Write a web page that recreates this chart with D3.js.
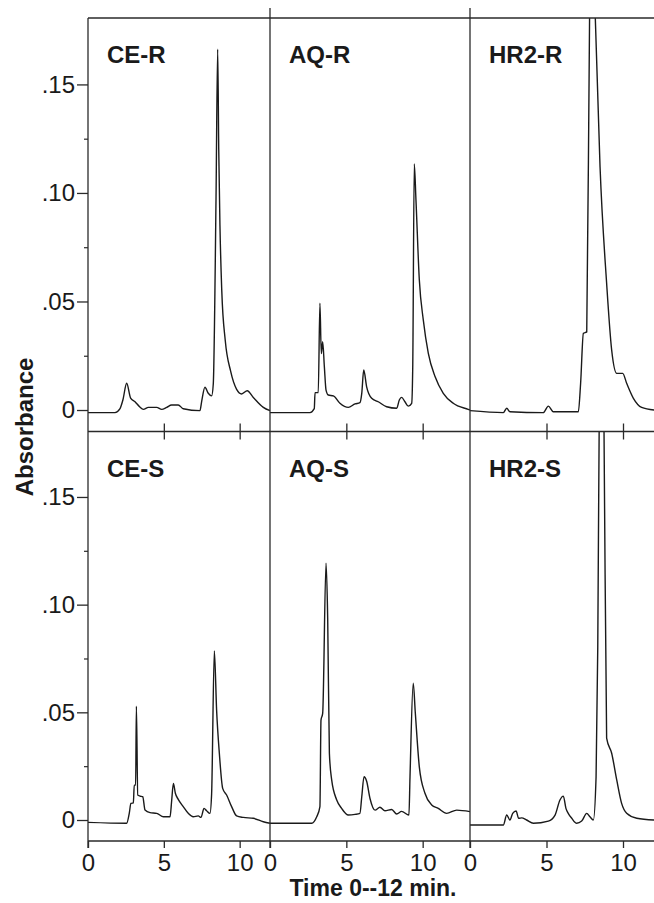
<!DOCTYPE html>
<html lang="en">
<head>
<meta charset="utf-8">
<script src="https://cdn.jsdelivr.net/npm/d3@7"></script>
<style>
  body { margin: 0; background: #fff; }
  svg { display: block; }
  text { font-family: "Liberation Sans", Arial, Helvetica, sans-serif; fill: #1a1a1a; }
</style>
</head>
<body>
<div id="chart"></div>
<script>
// ---- data (time in min, absorbance) ----
const panelNames = [["CE-R", "AQ-R", "HR2-R"], ["CE-S", "AQ-S", "HR2-S"]];
const yMajorTicks = [0, 0.05, 0.10, 0.15];
const yTickLabels = ["0", ".05", ".10", ".15"];
const yMinorTicks = [0.025, 0.075, 0.125];
const xTicks = [0, 5, 10];
const xTickLabels = ["0", "5", "10"];
const timeMax = [12, 13.1, 12];

const ceR = [[0,-0.0012],[1.78,-0.0012],[2.1,0.0005],[2.3,0.0046],[2.55,0.0123],[2.81,0.0055],[3.1,0.0038],[3.4,0.0015],[3.65,0.0003],[3.98,0.0012],[4.53,0.0012],[4.86,0.0003],[5.19,0.0012],[5.51,0.0023],[5.95,0.0023],[6.28,0.0006],[7.38,-0.0003],[7.49,0.0038],[7.71,0.0105],[7.93,0.0077],[8.15,0.0065],[8.26,0.012],[8.44,0.0968],[8.55,0.1662],[8.62,0.12],[8.70,0.085],[8.82,0.055],[9.05,0.032],[9.4,0.018],[9.8,0.0095],[10.13,0.0074],[10.5,0.0089],[10.9,0.0058],[11.56,0.0012],[12,-0.0003]];
const aqR = [[0,-0.0012],[2.62,-0.0012],[2.90,0.0006],[2.95,0.008],[3.16,0.008],[3.27,0.0492],[3.36,0.026],[3.45,0.0315],[3.56,0.020],[3.67,0.0092],[3.82,0.0069],[4.15,0.0065],[4.58,0.0031],[5.13,0.0012],[5.57,0.0028],[5.89,0.0034],[6.01,0.0077],[6.14,0.0184],[6.33,0.0107],[6.66,0.0054],[7.09,0.0038],[7.64,0.0015],[8.30,0.0008],[8.47,0.0046],[8.62,0.0058],[8.84,0.0038],[9.06,0.0018],[9.28,0.0031],[9.35,0.02],[9.45,0.1134],[9.56,0.0968],[9.78,0.060],[10.04,0.0415],[10.37,0.0261],[10.81,0.0154],[11.35,0.0077],[12.0,0.0031],[12.98,0.0003],[13.1,0.0]];
const hr2R = [[0,-0.0003],[2.18,-0.0012],[2.40,0.0008],[2.61,-0.0008],[4.79,-0.0012],[5.12,0.0018],[5.44,-0.0008],[7.08,-0.0008],[7.23,0.0123],[7.41,0.0353],[7.63,0.036],[7.82,0.185],[8.0,0.23],[8.17,0.185],[8.50,0.112],[8.93,0.0584],[9.26,0.0276],[9.59,0.0169],[9.98,0.0169],[10.24,0.0123],[10.68,0.0054],[11.22,0.0012],[12.03,0.0]];
const ceS = [[0,-0.0011],[2.55,-0.0015],[2.72,0.0031],[2.83,0.0077],[2.99,0.0080],[3.05,0.0162],[3.14,0.0162],[3.19,0.0529],[3.28,0.0116],[3.43,0.0111],[3.61,0.0108],[3.76,0.0046],[4.09,0.0034],[4.53,0.0031],[4.97,0.0015],[5.41,0.0015],[5.52,0.0093],[5.63,0.017],[5.76,0.0124],[5.95,0.0096],[6.28,0.0062],[6.61,0.0031],[6.94,0.0015],[7.27,0.0019],[7.45,0.0012],[7.65,0.0054],[7.82,0.0043],[8.04,0.0031],[8.15,0.012],[8.33,0.0785],[8.48,0.051],[8.66,0.031],[8.88,0.0147],[9.14,0.0116],[9.47,0.0062],[9.80,0.0019],[10.24,0.0012],[10.9,0.0008],[11.56,-0.0008],[12,-0.0015]];
const aqS = [[0,-0.0015],[2.73,-0.0015],[3.06,0.0015],[3.27,0.0062],[3.34,0.0464],[3.45,0.0495],[3.67,0.1192],[3.78,0.0929],[3.89,0.031],[4.04,0.0186],[4.37,0.0093],[4.69,0.0054],[5.13,0.0023],[5.57,0.0026],[5.89,0.0031],[6.01,0.0108],[6.16,0.0201],[6.33,0.018],[6.55,0.01],[6.88,0.0046],[7.20,0.0059],[7.53,0.0043],[7.97,0.0049],[8.30,0.0028],[8.62,0.0040],[9.10,0.0023],[9.17,0.02],[9.38,0.0635],[9.52,0.0495],[9.78,0.0247],[10.15,0.0124],[10.59,0.007],[11.02,0.0054],[11.57,0.0031],[12.23,0.0046],[13.1,0.0039]];
const hr2S = [[0,-0.0023],[2.18,-0.0023],[2.40,0.0023],[2.61,0.0],[2.79,0.0031],[3.01,0.0042],[3.18,0.0008],[3.38,0.001],[3.70,0.0],[4.14,-0.0015],[5.12,-0.0005],[5.56,0.0023],[5.88,0.0093],[6.10,0.0111],[6.27,0.0054],[6.43,0.003],[6.65,0.0008],[6.97,-0.0015],[7.30,-0.0005],[7.63,0.0031],[7.84,0.0015],[8.06,0.0],[8.24,0.02],[8.35,0.08],[8.45,0.19],[8.6,0.24],[8.76,0.18],[8.93,0.038],[9.26,0.031],[9.59,0.0186],[9.91,0.0077],[10.24,0.0031],[10.90,0.0008],[12.03,0.0]];
const traces = [[ceR, aqR, hr2R], [ceS, aqS, hr2S]];

// ---- layout ----
const W = 654, H = 903;
const colEdges = [88, 270, 470, 654];
const rowEdges = [18, 431.5, 841];
const ink = "#1a1a1a";

const svg = d3.select("#chart").append("svg")
  .attr("width", W).attr("height", H);

// each panel has its own time scale (the middle one runs a bit past 12 min)
const colRight = [270, 470, 653.6];
const xScales = timeMax.map((tm, i) =>
  d3.scaleLinear().domain([0, tm]).range([colEdges[i], colRight[i]]));
const yScales = [
  d3.scaleLinear().domain([-0.0099, 0.1806]).range([rowEdges[1], rowEdges[0]]),
  d3.scaleLinear().domain([-0.00975, 0.1804]).range([rowEdges[2], rowEdges[1]])
];

const defs = svg.append("defs");

// traces
traces.forEach((row, r) => {
  row.forEach((data, c) => {
    const id = `clip-${r}-${c}`;
    defs.append("clipPath").attr("id", id)
      .append("rect")
      .attr("x", colEdges[c]).attr("y", rowEdges[r])
      .attr("width", colEdges[c + 1] - colEdges[c] + 2)
      .attr("height", rowEdges[r + 1] - rowEdges[r]);
    const line = d3.line()
      .x(d => xScales[c](d[0]))
      .y(d => yScales[r](d[1]))
      .curve(d3.curveMonotoneX);
    svg.append("path")
      .datum(data)
      .attr("clip-path", `url(#${id})`)
      .attr("fill", "none")
      .attr("stroke", ink)
      .attr("stroke-width", 1.4)
      .attr("stroke-linejoin", "round")
      .attr("d", line);
  });
});

// frame
const frame = svg.append("g").attr("stroke", "#2a2a2a").attr("stroke-width", 1.3);
rowEdges.forEach(y => {
  frame.append("line").attr("x1", colEdges[0]).attr("x2", W).attr("y1", y).attr("y2", y);
});
frame.append("line").attr("x1", colEdges[0]).attr("x2", colEdges[0]).attr("y1", rowEdges[0]).attr("y2", 848);
[colEdges[1], colEdges[2]].forEach(x => {
  frame.append("line").attr("x1", x).attr("x2", x).attr("y1", 8).attr("y2", 848);
});

// y axes
yScales.forEach((y, r) => {
  svg.append("g")
    .attr("transform", `translate(${colEdges[0]},0)`)
    .call(d3.axisLeft(y).tickValues(yMajorTicks)
      .tickFormat((d, i) => yTickLabels[i]).tickSize(11).tickPadding(2))
    .call(g => g.select(".domain").remove())
    .call(g => g.selectAll("line").attr("stroke", "#2a2a2a").attr("stroke-width", 1.3))
    .call(g => g.selectAll("text").attr("font-size", 24).attr("fill", "#222")
      .style("font-family", "'Liberation Sans', Arial, sans-serif"));
  svg.append("g")
    .attr("transform", `translate(${colEdges[0]},0)`)
    .call(d3.axisLeft(y).tickValues(yMinorTicks).tickFormat("").tickSize(4))
    .call(g => g.select(".domain").remove())
    .call(g => g.selectAll("line").attr("stroke", "#2a2a2a").attr("stroke-width", 1.2));
});

// x axes: labelled bottom, crossing ticks at the middle border
xScales.forEach((x, c) => {
  svg.append("g")
    .attr("transform", `translate(0,${rowEdges[2]})`)
    .call(d3.axisBottom(x).tickValues(xTicks)
      .tickFormat((d, i) => xTickLabels[i]).tickSize(7).tickPadding(6))
    .call(g => g.select(".domain").remove())
    .call(g => g.selectAll("line").attr("stroke", "#2a2a2a").attr("stroke-width", 1.3))
    .call(g => g.selectAll("text").attr("font-size", 24).attr("fill", "#222")
      .style("font-family", "'Liberation Sans', Arial, sans-serif"));
  svg.append("g")
    .attr("transform", `translate(0,${rowEdges[1] - 8})`)
    .call(d3.axisBottom(x).tickValues(xTicks.slice(1)).tickFormat("").tickSize(16))
    .call(g => g.select(".domain").remove())
    .call(g => g.selectAll("line").attr("stroke", "#2a2a2a").attr("stroke-width", 1.3));
});

// panel labels
panelNames.forEach((row, r) => {
  row.forEach((name, c) => {
    svg.append("text")
      .attr("x", colEdges[c] + 19)
      .attr("y", rowEdges[r] + 45)
      .attr("font-size", 24)
      .attr("font-weight", "bold")
      .text(name);
  });
});

// axis titles
svg.append("text")
  .attr("transform", "translate(33,427) rotate(-90)")
  .attr("text-anchor", "middle")
  .attr("font-size", 24)
  .attr("font-weight", "bold")
  .text("Absorbance");

svg.append("text")
  .attr("x", 373)
  .attr("y", 896)
  .attr("text-anchor", "middle")
  .attr("font-size", 23)
  .attr("font-weight", "bold")
  .text("Time 0--12 min.");
</script>
</body>
</html>
